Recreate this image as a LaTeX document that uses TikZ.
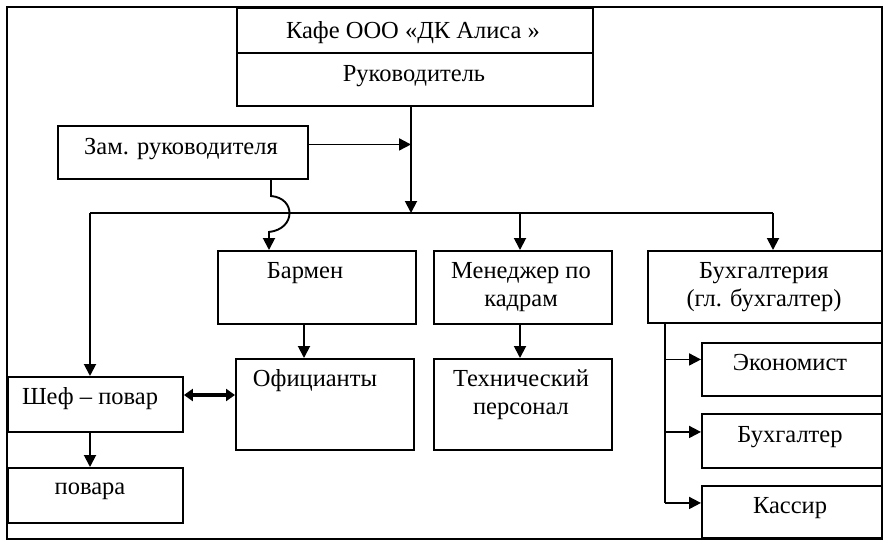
\documentclass[tikz,border=0pt]{standalone}
\usepackage{fontspec}
\setmainfont{Liberation Serif}
\usetikzlibrary{arrows.meta}
\begin{document}
\begin{tikzpicture}[x=1pt,y=-1pt,
  box/.style={draw, line width=1.9pt, inner sep=0pt, anchor=north west},
  txt/.style={font=\fontsize{24.5}{28}\selectfont, inner sep=0pt, align=center},
  conn/.style={line width=1.9pt},
  arr/.style={conn, -{Triangle[length=12pt,width=12pt]}},
  dbl/.style={line width=4pt, {Triangle[length=9pt,width=12pt]}-{Triangle[length=9pt,width=12pt]}}]
\useasboundingbox (0,0) rectangle (888,546);
\fill[white] (0,0) rectangle (888,546);
% outer frame
\draw[conn] (7,7) rectangle (882,539);
% boxes
\node[box, minimum width=356pt, minimum height=45pt] (top1) at (236,7) {};
\node[box, minimum width=356pt, minimum height=53pt] (top2) at (236,52) {};
\node[box, minimum width=250pt, minimum height=53pt] (zam) at (57,125) {};
\node[box, minimum width=198pt, minimum height=73pt] (barmen) at (217,250) {};
\node[box, minimum width=178pt, minimum height=73pt] (manager) at (433,250) {};
\node[box, minimum width=234pt, minimum height=72pt] (buh) at (647,250) {};
\node[box, minimum width=178pt, minimum height=91pt] (ofic) at (235,358) {};
\node[box, minimum width=178pt, minimum height=91pt] (tech) at (433,358) {};
\node[box, minimum width=175pt, minimum height=55pt] (shef) at (7,376) {};
\node[box, minimum width=175pt, minimum height=55pt] (povara) at (7,467) {};
\node[box, minimum width=180pt, minimum height=53pt] (econ) at (701,342) {};
\node[box, minimum width=180pt, minimum height=54pt] (buhg) at (701,413) {};
\node[box, minimum width=180pt, minimum height=52pt] (kassir) at (701,485) {};
% texts
\node[txt] (t-top1) at (413,33) {Кафе ООО «ДК Алиса »};
\node[txt] (t-top2) at (414,76) {Руководитель};
\node[txt] (t-zam) at (181,149) {Зам. руководителя};
\node[txt] (t-barmen) at (305,273) {Бармен};
\node[txt] (t-manager) at (521,287) {Менеджер по\\кадрам};
\node[txt] (t-buh) at (764,287) {Бухгалтерия\\(гл. бухгалтер)};
\node[txt] (t-ofic) at (315,381) {Официанты};
\node[txt] (t-tech) at (521,395) {Технический\\персонал};
\node[txt] (t-shef) at (90,399) {Шеф – повар};
\node[txt] (t-povara) at (90,491) {повара};
\node[txt] (t-econ) at (790,363) {Экономист};
\node[txt] (t-buhg) at (790,437) {Бухгалтер};
\node[txt] (t-kassir) at (790,508) {Кассир};
% coordinates
\coordinate (j) at (411,213);
\coordinate (busL) at (90,213);
\coordinate (busM) at (520,213);
\coordinate (busR) at (773,213);
\coordinate (dy) at (0,395);
\coordinate (bx) at (665,0);
\coordinate (hx) at (271,0);
\coordinate (ox) at (304,0);
% connectors
\draw[arr] (top2.south -| j) -- (j);
\draw[arr] ([yshift=8pt]zam.east) -- ([yshift=8pt]zam.east -| j);
\draw[conn] (busL) -- (busR);
\draw[arr] (busL) -- (busL |- shef.north);
\draw[arr] (busM) -- (busM |- manager.north);
\draw[arr] (busR) -- (busR |- buh.north);
\draw[arr] (zam.south -| hx) -- (271,196) .. controls (296,198) and (296,229) .. (269,232) -- (269,250);
\draw[arr] (barmen.south -| ox) -- (ofic.north -| ox);
\draw[arr] (busM |- manager.south) -- (busM |- tech.north);
\draw[dbl] (shef.east |- dy) -- (ofic.west |- dy);
\draw[arr] (busL |- shef.south) -- (busL |- povara.north);
\draw[conn] (buh.south -| bx) -- ([yshift=9pt]kassir.west -| bx);
\draw[arr] ([yshift=10pt]econ.west -| bx) -- ([yshift=10pt]econ.west);
\draw[arr] ([yshift=9pt]buhg.west -| bx) -- ([yshift=9pt]buhg.west);
\draw[arr] ([yshift=9pt]kassir.west -| bx) -- ([yshift=9pt]kassir.west);
\end{tikzpicture}
\end{document}
